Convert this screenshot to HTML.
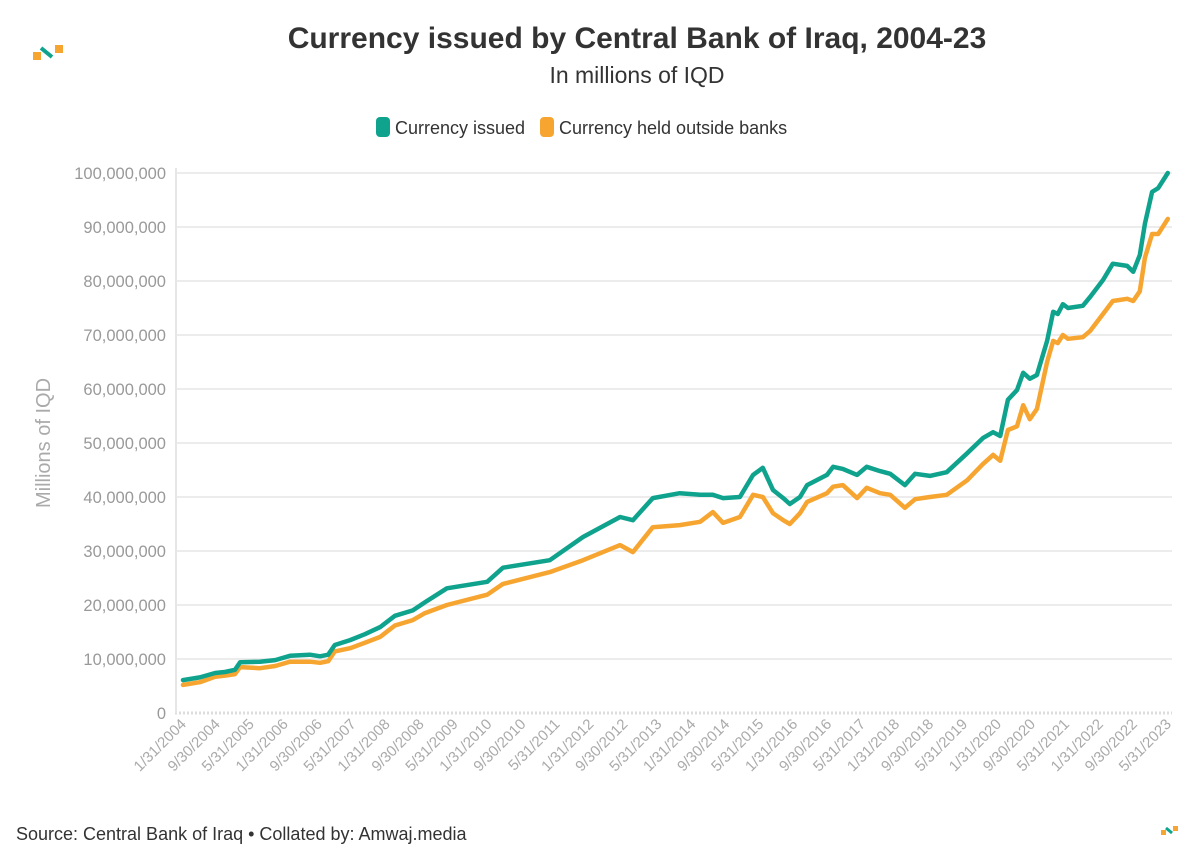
<!DOCTYPE html>
<html><head><meta charset="utf-8"><style>
body{margin:0;background:#fff;font-family:"Liberation Sans",sans-serif;}
#wrap{position:relative;width:1200px;height:868px;overflow:hidden;}
</style></head><body>
<div id="wrap">
<svg id="svg" width="1200" height="868" xmlns="http://www.w3.org/2000/svg">
  <g>
    <rect x="33" y="52" width="8" height="8" fill="#f7a531"/>
    <path d="M41 48 L52 57" stroke="#0fa38e" stroke-width="4"/>
    <rect x="55" y="45" width="8" height="8" fill="#f7a531"/>
  </g>
  <text x="637" y="48" text-anchor="middle" font-size="30" font-weight="bold" fill="#333">Currency issued by Central Bank of Iraq, 2004-23</text>
  <text x="637" y="83" text-anchor="middle" font-size="23" fill="#333">In millions of IQD</text>
  <g>
    <g>
      <rect x="376" y="117" width="14" height="20" rx="4" fill="#0fa38e"/>
      <text x="395" y="134" font-size="18" fill="#333">Currency issued</text>
    </g>
    <g>
      <rect x="540" y="117" width="14" height="20" rx="4" fill="#f7a531"/>
      <text x="559" y="134" font-size="18" fill="#333">Currency held outside banks</text>
    </g>
  </g>
  <text transform="translate(50,443) rotate(-90)" text-anchor="middle" font-size="20" fill="#aaa">Millions of IQD</text>
  <g id="grid"></g><g id="yt"></g><g id="xt"></g><g id="lines"></g>
  <text x="16" y="840" font-size="18" fill="#333">Source: Central Bank of Iraq • Collated by: Amwaj.media</text>
  <g>
    <rect x="1161" y="830" width="5" height="5" fill="#f7a531"/>
    <path d="M1166 828 L1172 833" stroke="#0fa38e" stroke-width="3"/>
    <rect x="1173" y="826" width="5" height="5" fill="#f7a531"/>
  </g>
</svg>
</div>
<script>
// years after Jan 2004
const dates=[0,.33,.63,.82,1.02,1.12,1.51,1.81,2.1,2.49,2.69,2.85,2.98,3.28,3.57,3.87,4.16,4.51,4.75,5.18,5.97,6.28,7.2,7.85,8.58,8.83,9.22,9.75,10.15,10.4,10.6,10.93,11.19,11.38,11.58,11.78,11.91,12.11,12.25,12.64,12.76,12.95,13.23,13.42,13.68,13.88,14.17,14.37,14.66,14.99,15.39,15.7,15.9,16.04,16.19,16.37,16.49,16.62,16.76,16.96,17.08,17.17,17.27,17.37,17.66,17.8,18.06,18.25,18.53,18.65,18.78,18.88,19.02,19.14,19.33];
// values in millions of millions IQD
const issued=[6.1,6.6,7.4,7.6,8.0,9.4,9.5,9.8,10.6,10.8,10.5,10.8,12.6,13.5,14.6,15.9,18.0,19.0,20.5,23.1,24.3,26.9,28.3,32.6,36.3,35.7,39.8,40.7,40.4,40.4,39.8,40.0,44.1,45.4,41.3,39.8,38.7,40.0,42.2,44.1,45.6,45.2,44.1,45.6,44.8,44.3,42.2,44.3,43.9,44.6,48.1,50.9,52.0,51.3,58.0,59.8,63.0,61.9,62.6,68.9,74.3,73.9,75.7,75.0,75.4,77.0,80.2,83.2,82.8,81.7,84.8,90.6,96.5,97.2,100.0];
const outside=[5.2,5.7,6.7,6.9,7.2,8.5,8.3,8.7,9.5,9.5,9.3,9.6,11.4,12.0,13.0,14.1,16.2,17.2,18.5,20.0,21.9,23.9,26.1,28.3,31.1,29.8,34.4,34.8,35.4,37.2,35.2,36.3,40.4,40.0,37.0,35.7,35.0,37.0,39.1,40.7,41.9,42.2,39.8,41.7,40.7,40.4,38.0,39.6,40.0,40.4,43.1,46.1,47.8,46.7,52.4,53.1,57.0,54.4,56.3,65.0,68.9,68.5,70.0,69.3,69.6,70.7,73.9,76.3,76.7,76.3,78.1,84.3,88.7,88.7,91.5];
const yTicks=[0,10,20,30,40,50,60,70,80,90,100];
const yTickLabels=["0","10,000,000","20,000,000","30,000,000","40,000,000","50,000,000","60,000,000","70,000,000","80,000,000","90,000,000","100,000,000"];
const xTickLabels=["1/31/2004","9/30/2004","5/31/2005","1/31/2006","9/30/2006","5/31/2007","1/31/2008","9/30/2008","5/31/2009","1/31/2010","9/30/2010","5/31/2011","1/31/2012","9/30/2012","5/31/2013","1/31/2014","9/30/2014","5/31/2015","1/31/2016","9/30/2016","5/31/2017","1/31/2018","9/30/2018","5/31/2019","1/31/2020","9/30/2020","5/31/2021","1/31/2022","9/30/2022","5/31/2023"];
const NS="http://www.w3.org/2000/svg";
const X0=183,X1=1168,Y0=713,Y1=173;
const xs=t=>X0+(X1-X0)*t/19.333;
const ys=v=>Y0-(Y0-Y1)*v/100;
function mk(tag,attrs,parent){const e=document.createElementNS(NS,tag);for(const k in attrs)e.setAttribute(k,attrs[k]);parent.appendChild(e);return e;}
const grid=document.getElementById('grid'),yt=document.getElementById('yt'),xt=document.getElementById('xt'),lines=document.getElementById('lines');
yTicks.forEach((v,i)=>{
  if(v>0){const l=mk('line',{x1:175,x2:1172,y1:ys(v),y2:ys(v),stroke:'#e6e6e6','stroke-width':1.5},grid);
  
  }
  const t=mk('text',{x:166,y:ys(v)+6,'text-anchor':'end','font-size':16.5,fill:'#999'},yt);
  t.textContent=yTickLabels[i];
  
  
});
const ax=mk('line',{x1:175,x2:1172,y1:Y0,y2:Y0,stroke:'#ddd','stroke-width':3,'stroke-dasharray':'2,2'},grid);


const ay=mk('line',{x1:176,x2:176,y1:Y1-5,y2:Y0,stroke:'#e6e6e6','stroke-width':2},grid);


xTickLabels.forEach((s,i)=>{
  const x=xs(i*8/12)+4,y=Y0+12;
  const t=mk('text',{x:x,y:y,'text-anchor':'end','font-size':15,fill:'#aaa',transform:`rotate(-45 ${x} ${y})`},xt);
  t.textContent=s;
  
  
});
function line(vals,color,name){
  const d=vals.map((v,i)=>(i?'L':'M')+xs(dates[i]).toFixed(1)+' '+ys(v).toFixed(1)).join(' ');
  const p=mk('path',{d:d,fill:'none',stroke:color,'stroke-width':4.5,'stroke-linejoin':'round','stroke-linecap':'round'},lines);
  
  
}
line(outside,'#f7a531','line-currency-held-outside-banks');
line(issued,'#0fa38e','line-currency-issued');
</script>
</body></html>
